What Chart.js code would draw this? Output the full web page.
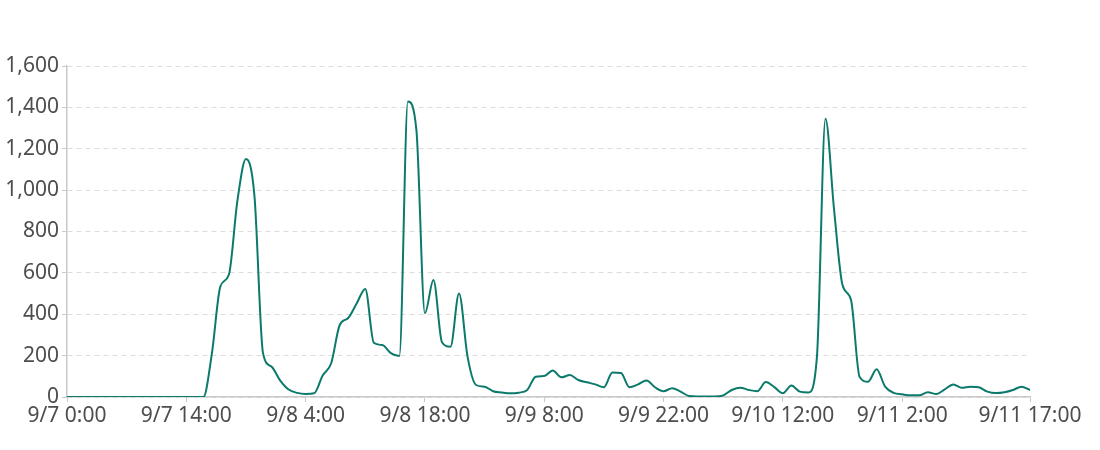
<!DOCTYPE html>
<html>
<head>
<meta charset="utf-8">
<script src="https://cdn.jsdelivr.net/npm/chart.js@4"></script>
<style>
  html, body { margin: 0; padding: 0; background: #fff; }
  canvas { display: block; }
</style>
</head>
<body>
<canvas id="c" width="1100" height="450"></canvas>
<script>
// Hourly categories from 9/7 0:00 to 9/11 17:00
const days = [7, 8, 9, 10, 11];
const lastHour = 17;
const categories = [];
for (const d of days) {
  for (let h = 0; h < 24; h++) {
    if (d === 11 && h > lastHour) break;
    categories.push('9/' + d + ' ' + h + ':00');
  }
}

const tickLabels = ['9/7 0:00', '9/7 14:00', '9/8 4:00', '9/8 18:00', '9/9 8:00',
                    '9/9 22:00', '9/10 12:00', '9/11 2:00', '9/11 17:00'];

const yTicks = [0, 200, 400, 600, 800, 1000, 1200, 1400, 1600];

const values = [
  0, 0, 0, 0, 0, 0, 0, 0, 0, 0, 0, 0, 0, 0, 0, 0, 0,      // 9/7 0-16
  210, 535, 592, 950, 1150, 970, 212,                      // 9/7 17-23
  147, 80, 36, 20, 15, 18, 104, 163, 348, 382, 453, 522,   // 9/8 0-11
  262, 251, 212, 198, 1428, 1290, 405, 565, 265, 243, 500, 195, // 9/8 12-23
  58, 50, 28, 22, 18, 21, 34, 98, 101, 128, 95, 106,       // 9/9 0-11
  82, 71, 61, 47, 118, 116, 47, 61, 80, 47, 28, 42,        // 9/9 12-23
  26, 5, 3, 3, 3, 8, 34, 45, 34, 28, 72, 48,               // 9/10 0-11
  18, 55, 26, 22, 195, 1345, 910, 541, 469, 98, 74, 134,   // 9/10 12-23
  50, 20, 13, 8, 8, 23, 14, 37, 61, 45, 50, 47,            // 9/11 0-11
  26, 19, 23, 34, 50, 34                                   // 9/11 12-17
];

const textColor = '#4d4d4d';
const lineColor = '#0b7a6b';
const font = { family: '"Noto Sans", sans-serif', size: 21 };

new Chart(document.getElementById('c'), {
  type: 'line',
  data: {
    labels: categories,
    datasets: [{
      data: values,
      borderColor: lineColor,
      borderWidth: 2,
      pointRadius: 0,
      pointHoverRadius: 0,
      fill: false,
      cubicInterpolationMode: 'monotone'
    }]
  },
  options: {
    responsive: false,
    animation: false,
    devicePixelRatio: 1,
    layout: { padding: { top: 66, right: 70, left: 0, bottom: 0 } },
    plugins: { legend: { display: false }, tooltip: { enabled: false } },
    scales: {
      x: {
        type: 'category',
        offset: false,
        afterFit(s) { s.height = 53; },
        grid: {
          display: true,
          drawOnChartArea: false,
          drawTicks: true,
          tickLength: 5,
          tickColor: '#c8c8c8',
          tickWidth: 1
        },
        border: { display: true, color: '#c8c8c8', width: 1.5 },
        ticks: {
          autoSkip: false,
          maxRotation: 0,
          minRotation: 0,
          padding: 1,
          color: textColor,
          font: font,
          callback(value, index) {
            const lab = categories[index];
            return tickLabels.includes(lab) ? lab : null;
          }
        }
      },
      y: {
        min: yTicks[0],
        max: yTicks[yTicks.length - 1],
        afterFit(s) { s.width = 67; },
        afterBuildTicks(s) { s.ticks = yTicks.map(v => ({ value: v })); },
        grid: {
          color: '#dcdcdc',
          lineWidth: 1,
          drawTicks: true,
          tickLength: 5,
          tickColor: '#c8c8c8',
          tickBorderDash: []
        },
        border: { display: true, color: '#c8c8c8', width: 1.5, dash: [5, 4] },
        ticks: {
          padding: 3,
          color: textColor,
          font: font,
          callback(v) { return v.toLocaleString('en-US'); }
        }
      }
    }
  }
});
</script>
</body>
</html>
